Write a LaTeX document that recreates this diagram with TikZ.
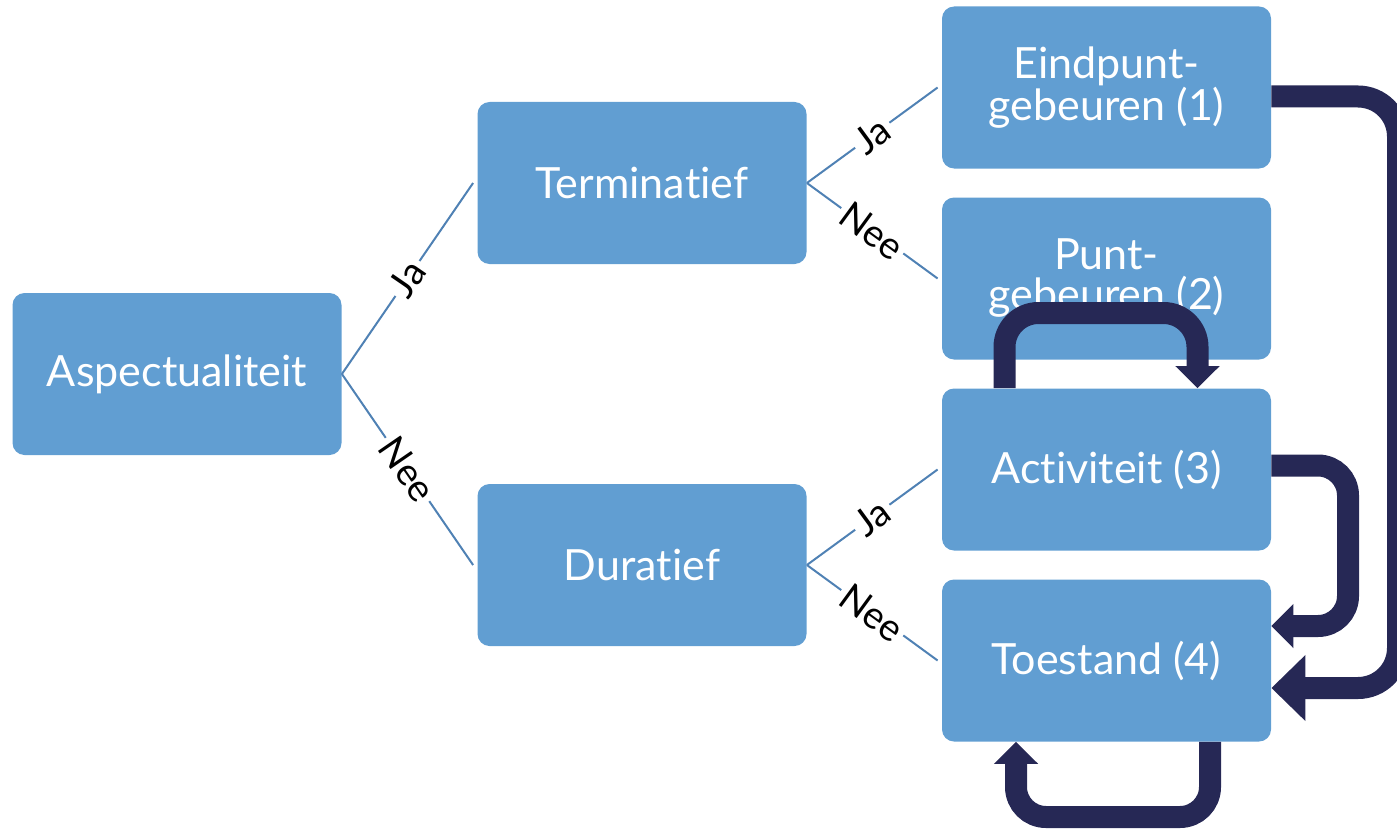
\documentclass[tikz,border=0pt]{standalone}
\usepackage{fontspec}
\setmainfont{Lato}[Ligatures=NoCommon]
\usetikzlibrary{arrows.meta}
\definecolor{boxblue}{HTML}{619ED2}
\definecolor{linkblue}{HTML}{4F81B4}
\definecolor{navy}{HTML}{262855}
\begin{document}
\begin{tikzpicture}[x=0.5pt,y=-0.5pt,
  box/.style={fill=boxblue, rounded corners=6pt, minimum width=164.5pt,
    minimum height=81pt, inner sep=0pt, text=white,
    font=\fontsize{21.5}{20}\selectfont, align=center},
  link/.style={draw=linkblue, line width=1pt},
  lbl/.style={midway, sloped, fill=white, inner sep=2pt,
    font=\fontsize{19}{19}\selectfont, text=black},
  flow/.style={draw=navy, line width=11pt,
    -{Triangle[width=21.5pt,length=11pt]}},
  bigflow/.style={draw=navy, line width=11pt,
    -{Triangle[width=32pt,length=17pt]}},
]
\useasboundingbox (0,0) rectangle (1397,829);

% category boxes
\node[box] (asp)  at (177,374)    {Aspectualiteit};
\node[box] (term) at (642,183)    {Terminatief};
\node[box] (dur)  at (642,565)    {Duratief};
\node[box] (e1)   at (1106.5,87.5)  {Eindpunt-\\gebeuren (1)};
\node[box] (e2)   at (1106.5,278.5) {Punt-\\gebeuren (2)};
\node[box] (e3)   at (1106.5,469.5) {Activiteit (3)};
\node[box] (e4)   at (1106.5,660.5) {Toestand (4)};

% decision branches
\draw[link] (asp.east) -- node[lbl]{Ja}  ([xshift=-2pt]term.west);
\draw[link] (asp.east) -- node[lbl]{Nee} ([xshift=-2pt]dur.west);
\draw[link] (term.east) -- node[lbl]{Ja}  ([xshift=-2pt]e1.west);
\draw[link] (term.east) -- node[lbl]{Nee} ([xshift=-2pt]e2.west);
\draw[link] (dur.east) -- node[lbl]{Ja}  ([xshift=-2pt]e3.west);
\draw[link] (dur.east) -- node[lbl]{Nee} ([xshift=-2pt]e4.west);

% transitions between classes
\draw[bigflow, rounded corners=20pt] ([yshift=-4.5pt]e1.east) -- (1398,96.5)
  -- (1398,688) -- ([yshift=-13.75pt]e4.east);
\draw[flow, rounded corners=15pt] ([yshift=2pt]e3.east) -- (1348,465.5)
  -- (1348,626) -- ([yshift=17.25pt]e4.east);
\draw[flow, rounded corners=17pt] ([xshift=-51pt]e3.north) -- (1004.5,313)
  -- (1197.5,313) -- ([xshift=45.5pt]e3.north);
\draw[flow, rounded corners=15pt] ([xshift=51.75pt]e4.south) -- (1210,817)
  -- (1016,817) -- ([xshift=-45.25pt]e4.south);
\end{tikzpicture}
\end{document}
